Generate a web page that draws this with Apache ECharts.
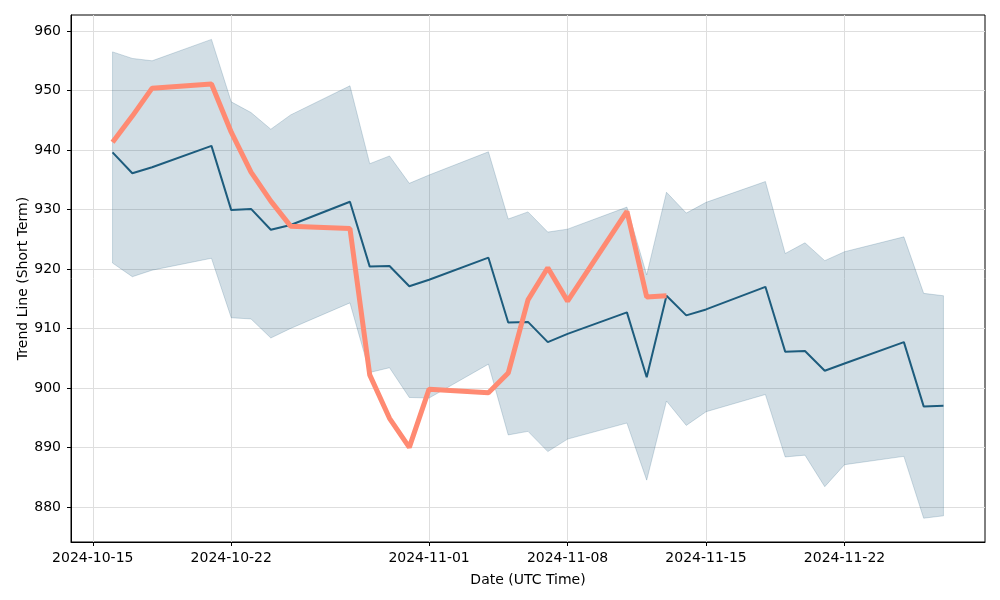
<!DOCTYPE html>
<html>
<head>
    <meta charset="UTF-8"/>
    <title>Trend Line</title>
    <script type="text/javascript" src="https://cdn.jsdelivr.net/npm/echarts@6/dist/echarts.min.js"></script>
    <style>
        html, body { margin: 0; padding: 0; background: #fff; }
    </style>
</head>
<body>
<div id="main" style="width: 1000px; height: 600px;"></div>
<script type="text/javascript">
    // trading days
    var dates = ['2024-10-16', '2024-10-17', '2024-10-18', '2024-10-21', '2024-10-22', '2024-10-23', '2024-10-24', '2024-10-25',
        '2024-10-28', '2024-10-29', '2024-10-30', '2024-10-31', '2024-11-01', '2024-11-04', '2024-11-05', '2024-11-06',
        '2024-11-07', '2024-11-08', '2024-11-11', '2024-11-12', '2024-11-13', '2024-11-14', '2024-11-15', '2024-11-18',
        '2024-11-19', '2024-11-20', '2024-11-21', '2024-11-22', '2024-11-25', '2024-11-26', '2024-11-27'];
    // middle line
    var middle = [939.6, 936.1, 937.1, 940.7, 929.9, 930.1, 926.6, 927.4, 931.3, 920.4, 920.5, 917.1, 918.2, 921.9, 911.0, 911.1,
        907.7, 909.1, 912.7, 901.8, 915.5, 912.2, 913.2, 917.0, 906.1, 906.2, 902.9, 904.1, 907.7, 896.9, 897.0];
    // band
    var upper = [956.5, 955.4, 955.0, 958.6, 948.1, 946.3, 943.5, 945.9, 950.8, 937.7, 939.0, 934.4, 935.8, 939.7, 928.4, 929.6,
        926.2, 926.7, 930.4, 919.0, 932.9, 929.4, 931.2, 934.7, 922.6, 924.4, 921.4, 922.9, 925.4, 915.9, 915.5];
    var lower = [921.0, 918.7, 919.8, 921.8, 911.8, 911.6, 908.4, 910.0, 914.3, 902.6, 903.4, 898.4, 898.3, 904.0, 892.1, 892.7,
        889.3, 891.4, 894.1, 884.5, 897.8, 893.7, 896.0, 898.9, 888.4, 888.7, 883.4, 887.1, 888.5, 878.1, 878.5];
    // short term trend (ends 2024-11-13)
    var trend = [941.3, 945.7, 950.4, 951.1, 943.0, 936.3, 931.4, 927.2, 926.8, 902.2, 894.9, 890.0, 899.8, 899.2, 902.5, 914.8,
        920.2, 914.6, 929.7, 915.3, 915.5];
    // tick labels
    var xTicks = ['2024-10-15', '2024-10-22', '2024-11-01', '2024-11-08', '2024-11-15', '2024-11-22'];
    var yTicks = [880, 890, 900, 910, 920, 930, 940, 950, 960];

    function ts(s) {
        var p = s.split('-');
        return Date.UTC(+p[0], +p[1] - 1, +p[2]);
    }
    function fmt(v) {
        var d = new Date(v);
        var m = d.getUTCMonth() + 1, day = d.getUTCDate();
        return d.getUTCFullYear() + '-' + (m < 10 ? '0' + m : m) + '-' + (day < 10 ? '0' + day : day);
    }

    var t = dates.map(ts);
    var span = t[t.length - 1] - t[0];
    var xMin = t[0] - span * 0.05;
    var xMax = t[t.length - 1] + span * 0.05;

    var bandData = t.map(function (v, i) { return [v, lower[i], upper[i]]; });
    var midData = t.map(function (v, i) { return [v, middle[i]]; });
    var trendData = trend.map(function (v, i) { return [t[i], v]; });

    var font = 'DejaVu Sans';
    var fs = 14;
    var myChart = echarts.init(document.getElementById('main'));

    var option = {
        animation: false,
        backgroundColor: '#fff',
        textStyle: { fontFamily: font },
        grid: {
            left: 71, right: 15, top: 15, bottom: 58,
            show: true, borderColor: '#000', borderWidth: 1
        },
        xAxis: {
            // timestamps on a value axis, so the date ticks can be placed freely
            type: 'value',
            min: xMin,
            max: xMax,
            name: 'Date (UTC Time)',
            nameLocation: 'middle',
            nameGap: 31,
            nameTextStyle: { color: '#000', fontSize: fs, fontFamily: font },
            axisLine: { show: true, onZero: false, lineStyle: { color: '#000', width: 1 } },
            axisTick: { show: true, length: 4, lineStyle: { color: '#000' }, customValues: xTicks.map(ts) },
            axisLabel: {
                color: '#000', fontSize: fs, fontFamily: font, margin: 9,
                customValues: xTicks.map(ts),
                formatter: function (v) { return fmt(v); }
            },
            splitLine: { show: true, lineStyle: { color: '#dedede', width: 1 } }
        },
        yAxis: {
            type: 'value',
            min: 874.1,
            max: 962.7,
            name: 'Trend Line (Short Term)',
            nameLocation: 'middle',
            nameGap: 41,
            nameMoveOverlap: false,
            nameTextStyle: { color: '#000', fontSize: fs, fontFamily: font },
            axisLine: { show: true, lineStyle: { color: '#000', width: 1 } },
            axisTick: { show: true, length: 4, lineStyle: { color: '#000' }, customValues: yTicks },
            axisLabel: { color: '#000', fontSize: fs, fontFamily: font, margin: 10, customValues: yTicks },
            splitLine: { show: true, lineStyle: { color: '#dedede', width: 1 } }
        },
        series: [{
            name: 'band',
            type: 'custom',
            data: bandData,
            encode: { x: 0, y: [1, 2] },
            clip: true,
            z: 1,
            renderItem: function (params, api) {
                if (params.dataIndex !== 0) return;
                var top = [], bottom = [];
                for (var i = 0; i < bandData.length; i++) {
                    top.push(api.coord([bandData[i][0], bandData[i][2]]));
                    bottom.unshift(api.coord([bandData[i][0], bandData[i][1]]));
                }
                return {
                    type: 'polygon',
                    shape: { points: top.concat(bottom) },
                    style: { fill: 'rgba(29,92,125,0.2)', stroke: 'rgba(29,92,125,0.2)', lineWidth: 1 }
                };
            }
        }, {
            name: 'middle',
            type: 'line',
            data: midData,
            symbol: 'none',
            z: 2,
            lineStyle: { color: '#1d5c7d', width: 2 }
        }, {
            name: 'trend',
            type: 'line',
            data: trendData,
            symbol: 'none',
            z: 3,
            lineStyle: { color: '#ff8a72', width: 5 }
        }]
    };
    myChart.setOption(option);
</script>
</body>
</html>
